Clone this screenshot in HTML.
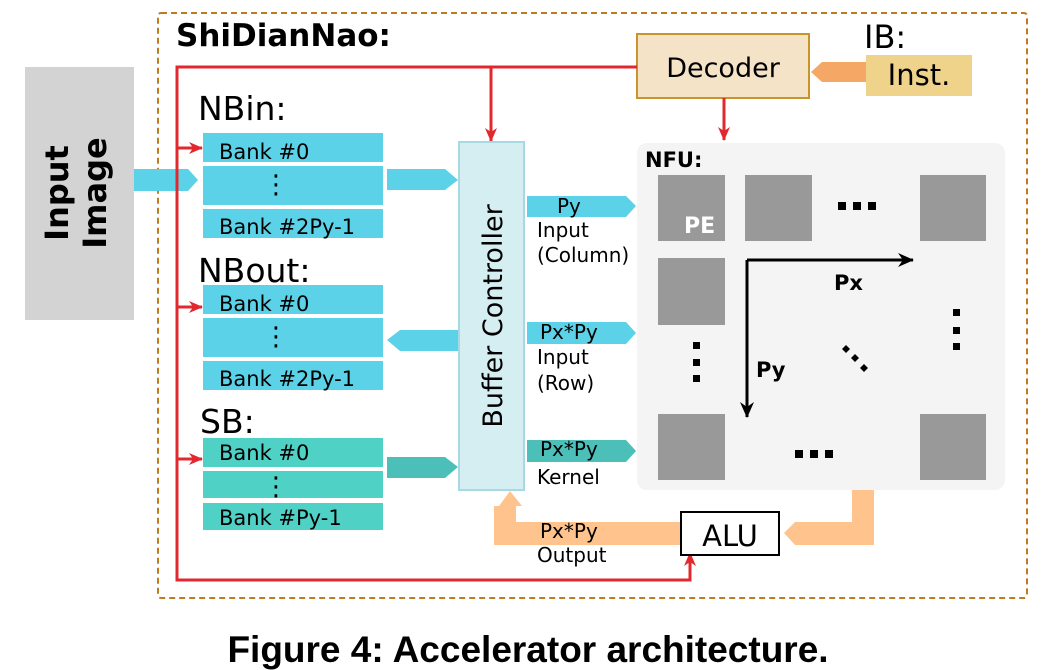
<!DOCTYPE html>
<html><head><style>body{margin:0;background:#fff}svg{display:block}text{font-family:"DejaVu Sans","Liberation Sans",sans-serif}</style></head>
<body>
<svg width="1041" height="670" xmlns="http://www.w3.org/2000/svg">
<defs>
<marker id="ra" markerWidth="14" markerHeight="14" refX="13" refY="7" orient="auto" markerUnits="userSpaceOnUse"><path d="M0,1 L14,7 L0,13 L4,7z" fill="#e0282e"/></marker>
<marker id="ka" markerWidth="16" markerHeight="16" refX="15" refY="8" orient="auto" markerUnits="userSpaceOnUse"><path d="M0,1 L16,8 L0,15 L5,8z" fill="#000"/></marker>
</defs>
<rect x="158" y="13" width="869" height="585" rx="3" fill="none" stroke="#c07a20" stroke-width="2" stroke-dasharray="6,4"/>
<text x="176" y="46" font-size="31" font-weight="bold">ShiDianNao:</text>
<rect x="25" y="67" width="109" height="253" fill="#d3d3d3"/>
<text transform="translate(68,193) rotate(-90)" font-size="32" font-weight="bold" text-anchor="middle">Input</text>
<text transform="translate(106,193) rotate(-90)" font-size="32" font-weight="bold" text-anchor="middle">Image</text>
<path d="M134,169 L188,169 L198,180 L188,191 L134,191z" fill="#5bd2e8"/>
<rect x="637" y="143" width="368" height="347" rx="10" fill="#f4f4f4"/>
<text x="645" y="167" font-size="21" font-weight="bold">NFU:</text>
<g fill="#999">
<rect x="658" y="175" width="67" height="66"/><rect x="745" y="175" width="67" height="66"/><rect x="920" y="175" width="66" height="66"/>
<rect x="658" y="258" width="67" height="67"/>
<rect x="658" y="414" width="67" height="66"/><rect x="920" y="414" width="66" height="66"/>
</g>
<text x="684" y="233" font-size="22" font-weight="bold" fill="#fff">PE</text>
<g fill="#000">
<rect x="838" y="202" width="8" height="8"/><rect x="853" y="202" width="8" height="8"/><rect x="868" y="202" width="8" height="8"/>
<rect x="795" y="450" width="8" height="8"/><rect x="810" y="450" width="8" height="8"/><rect x="825" y="450" width="8" height="8"/>
<rect x="693" y="342" width="7" height="7"/><rect x="693" y="359" width="7" height="7"/><rect x="693" y="375" width="7" height="7"/>
<rect x="953" y="309" width="7" height="7"/><rect x="953" y="327" width="7" height="7"/><rect x="953" y="343" width="7" height="7"/>
<path d="M842,349 l4,-4 l4,4 l-4,4z M851,358 l4,-4 l4,4 l-4,4z M860,368 l4,-4 l4,4 l-4,4z"/>
</g>
<path d="M747,260 L913,260" stroke="#000" stroke-width="3" marker-end="url(#ka)"/>
<path d="M747,260 L747,417" stroke="#000" stroke-width="3" marker-end="url(#ka)"/>
<text x="834" y="290" font-size="21" font-weight="bold">Px</text>
<text x="756" y="377" font-size="21" font-weight="bold">Py</text>
<rect x="637" y="34" width="172" height="64" fill="#f5e3c8" stroke="#c8952a" stroke-width="2"/>
<text x="723" y="77" font-size="27" text-anchor="middle">Decoder</text>
<text x="864" y="48" font-size="32">IB:</text>
<rect x="866" y="55" width="106" height="41" fill="#f0d38a"/>
<text x="919" y="85" font-size="29" text-anchor="middle">Inst.</text>
<path d="M866,62 L822,62 L811,72 L822,82 L866,82z" fill="#f5a766"/>
<g stroke="#e0282e" stroke-width="3" fill="none">
<path d="M637,67 L177,67 L177,580 L690,580 L690,553" marker-end="url(#ra)"/>
<path d="M491,67 L491,141" marker-end="url(#ra)"/>
<path d="M724,98 L724,140" marker-end="url(#ra)"/>
<path d="M177,148 L202,148" marker-end="url(#ra)"/>
<path d="M177,307 L202,307" marker-end="url(#ra)"/>
<path d="M177,459 L202,459" marker-end="url(#ra)"/>
</g>
<g font-size="21">
<text x="198" y="120" font-size="33">NBin:</text>
<rect x="203" y="133" width="180" height="29" fill="#5bd2e8"/><rect x="203" y="166" width="180" height="39" fill="#5bd2e8"/><rect x="203" y="209" width="180" height="29" fill="#5bd2e8"/>
<text x="219" y="159">Bank #0</text><text x="219" y="234">Bank #2Py-1</text>
<text x="263" y="193" font-size="26">⋮</text>
<text x="198" y="282" font-size="33">NBout:</text>
<rect x="203" y="285" width="180" height="29" fill="#5bd2e8"/><rect x="203" y="318" width="180" height="39" fill="#5bd2e8"/><rect x="203" y="361" width="180" height="29" fill="#5bd2e8"/>
<text x="219" y="311">Bank #0</text><text x="219" y="386">Bank #2Py-1</text>
<text x="263" y="345" font-size="26">⋮</text>
<text x="200" y="433" font-size="33">SB:</text>
<rect x="203" y="438" width="180" height="29" fill="#4fd1c5"/><rect x="203" y="471" width="180" height="27" fill="#4fd1c5"/><rect x="203" y="503" width="180" height="27" fill="#4fd1c5"/>
<text x="219" y="460">Bank #0</text><text x="219" y="525">Bank #Py-1</text>
<text x="263" y="495" font-size="26">⋮</text>
</g>
<path d="M387,169 L445,169 L458,180 L445,190 L387,190z" fill="#5bd2e8"/>
<path d="M458,330 L400,330 L387,340 L400,351 L458,351z" fill="#5bd2e8"/>
<path d="M387,457 L445,457 L458,467 L445,478 L387,478z" fill="#4cbfb8"/>
<rect x="459" y="142" width="65" height="348" fill="#d4eef2" stroke="#a8d8e4" stroke-width="2"/>
<text transform="translate(502,316) rotate(-90)" font-size="27" text-anchor="middle">Buffer Controller</text>
<path d="M527,196 L626,196 L636,206 L626,217 L527,217z" fill="#5bd2e8"/>
<path d="M527,322 L626,322 L636,333 L626,344 L527,344z" fill="#5bd2e8"/>
<path d="M527,440 L626,440 L636,451 L626,462 L527,462z" fill="#4cbfb8"/>
<path d="M852,490 L874,490 L874,545 L795,545 L784,533 L795,522 L852,522z" fill="#ffc48e"/>
<path d="M680,522 L516,522 L516,506 L522,506 L510,491 L499,506 L494,506 L494,545 L680,545z" fill="#ffc48e"/>
<g font-size="20">
<text x="557" y="213">Py</text><text x="537" y="237">Input</text><text x="537" y="262">(Column)</text>
<text x="540" y="339">Px*Py</text><text x="537" y="364">Input</text><text x="537" y="390">(Row)</text>
<text x="540" y="456">Px*Py</text><text x="537" y="484">Kernel</text>
<text x="540" y="538">Px*Py</text><text x="537" y="562">Output</text>
</g>
<rect x="681" y="512" width="98" height="43" fill="#fff" stroke="#000" stroke-width="2"/>
<text x="730" y="546" font-size="29" text-anchor="middle">ALU</text>
<text x="528" y="662" font-size="37" font-weight="bold" text-anchor="middle" style="font-family:'Liberation Sans',sans-serif">Figure 4: Accelerator architecture.</text>
</svg>
</body></html>
